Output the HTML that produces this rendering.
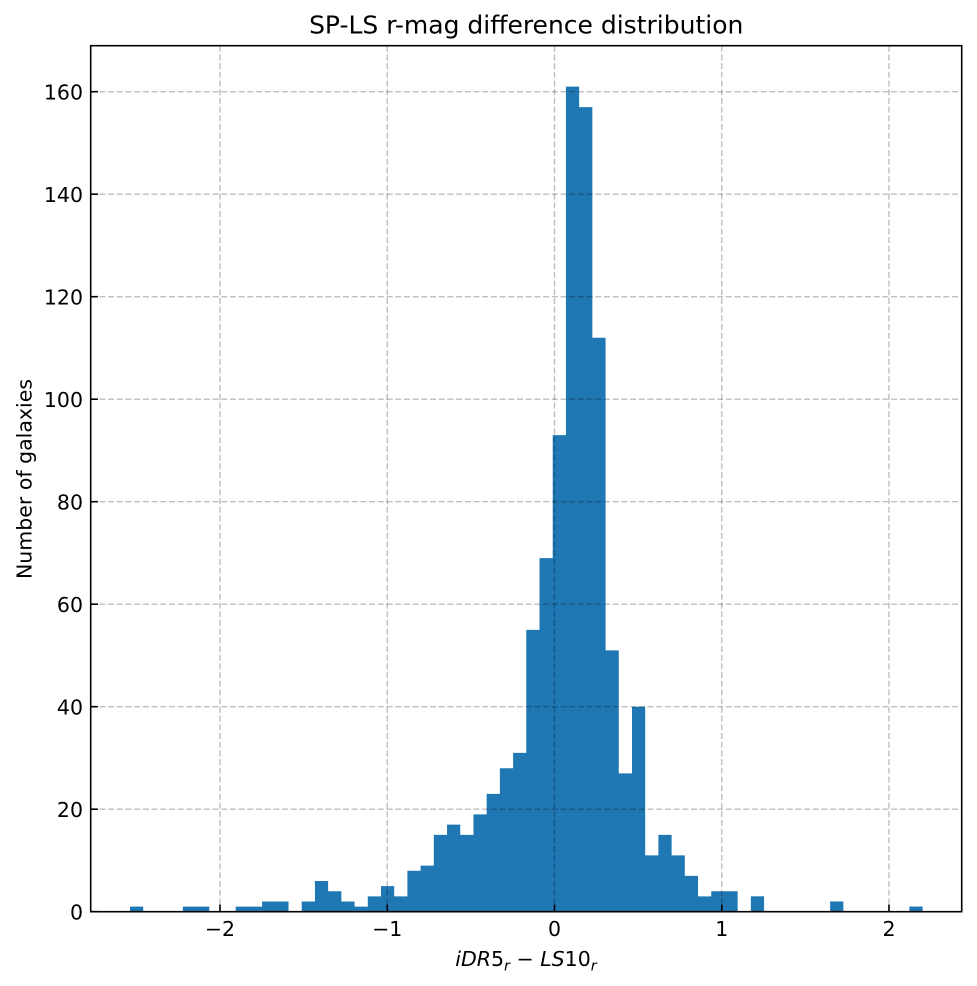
<!DOCTYPE html>
<html>
<head>
<meta charset="utf-8">
<style>
  html, body { margin: 0; padding: 0; background: #ffffff; }
  svg { display: block; }
  text { font-family: "DejaVu Sans", "Liberation Sans", sans-serif; fill: #000; }
</style>
</head>
<body>
<svg width="977" height="986" viewBox="0 0 977 986" xmlns="http://www.w3.org/2000/svg">
  <rect x="0" y="0" width="977" height="986" fill="#ffffff"/>

  <!-- Histogram bars -->
  <g fill="#1f77b4" stroke="none">
    <path d="M130,911.7 V906.575 H143.21 V911.7 Z"/>
    <path d="M182.84,911.7 V906.575 H209.26 V911.7 Z"/>
    <path d="M235.68,911.7 V906.575 H262.1 V901.45 H288.52 V911.7 Z"/>
    <path d="M301.73,911.7 V901.45 H314.94 V880.95 H328.15 V891.2 H341.36 V901.45 H354.57 V906.575 H367.78 V896.325 H380.99 V886.075 H394.2 V896.325 H407.41 V870.7 H420.62 V865.575 H433.83 V834.825 H447.04 V824.575 H460.25 V834.825 H473.46 V814.325 H486.67 V793.825 H499.88 V768.2 H513.09 V752.825 H526.3 V629.825 H539.51 V558.075 H552.72 V435.075 H565.93 V86.575 H579.14 V107.075 H592.35 V337.7 H605.56 V650.325 H618.77 V773.325 H631.98 V706.7 H645.19 V855.325 H658.4 V834.825 H671.61 V855.325 H684.82 V875.825 H698.03 V896.325 H711.24 V891.2 H737.66 V911.7 Z"/>
    <path d="M750.87,911.7 V896.325 H764.08 V911.7 Z"/>
    <path d="M830.13,911.7 V901.45 H843.34 V911.7 Z"/>
    <path d="M909.39,911.7 V906.575 H922.6 V911.7 Z"/>
  </g>

  <!-- Grid (drawn above bars) -->
  <g stroke="#000000" stroke-opacity="0.25" stroke-width="1.4" stroke-dasharray="6,2.7" fill="none">
    <line x1="220" y1="45.7" x2="220" y2="911.7"/>
    <line x1="387.25" y1="45.7" x2="387.25" y2="911.7"/>
    <line x1="554.5" y1="45.7" x2="554.5" y2="911.7"/>
    <line x1="721.75" y1="45.7" x2="721.75" y2="911.7"/>
    <line x1="889" y1="45.7" x2="889" y2="911.7"/>

    <line x1="90.7" y1="809.2" x2="961.7" y2="809.2"/>
    <line x1="90.7" y1="706.7" x2="961.7" y2="706.7"/>
    <line x1="90.7" y1="604.2" x2="961.7" y2="604.2"/>
    <line x1="90.7" y1="501.7" x2="961.7" y2="501.7"/>
    <line x1="90.7" y1="399.2" x2="961.7" y2="399.2"/>
    <line x1="90.7" y1="296.7" x2="961.7" y2="296.7"/>
    <line x1="90.7" y1="194.2" x2="961.7" y2="194.2"/>
    <line x1="90.7" y1="91.7" x2="961.7" y2="91.7"/>
  </g>

  <!-- Ticks (inward) -->
  <g stroke="#000" stroke-width="1.6">
    <line x1="220" y1="911.7" x2="220" y2="904.5"/>
    <line x1="387.25" y1="911.7" x2="387.25" y2="904.5"/>
    <line x1="554.5" y1="911.7" x2="554.5" y2="904.5"/>
    <line x1="721.75" y1="911.7" x2="721.75" y2="904.5"/>
    <line x1="889" y1="911.7" x2="889" y2="904.5"/>

    <line x1="90.7" y1="911.7" x2="97.9" y2="911.7"/>
    <line x1="90.7" y1="809.2" x2="97.9" y2="809.2"/>
    <line x1="90.7" y1="706.7" x2="97.9" y2="706.7"/>
    <line x1="90.7" y1="604.2" x2="97.9" y2="604.2"/>
    <line x1="90.7" y1="501.7" x2="97.9" y2="501.7"/>
    <line x1="90.7" y1="399.2" x2="97.9" y2="399.2"/>
    <line x1="90.7" y1="296.7" x2="97.9" y2="296.7"/>
    <line x1="90.7" y1="194.2" x2="97.9" y2="194.2"/>
    <line x1="90.7" y1="91.7" x2="97.9" y2="91.7"/>
  </g>

  <!-- Spines -->
  <rect x="90.7" y="45.7" width="871" height="866" fill="none" stroke="#000" stroke-width="1.6"/>

  <!-- Y tick labels -->
  <g font-size="20.5" text-anchor="end">
    <text x="83" y="919.3">0</text>
    <text x="83" y="816.8">20</text>
    <text x="83" y="714.3">40</text>
    <text x="83" y="611.8">60</text>
    <text x="83" y="509.3">80</text>
    <text x="83" y="406.8">100</text>
    <text x="83" y="304.3">120</text>
    <text x="83" y="201.8">140</text>
    <text x="83" y="99.3">160</text>
  </g>

  <!-- X tick labels -->
  <g font-size="20.5" text-anchor="middle">
    <text x="220" y="936">−2</text>
    <text x="387.25" y="936">−1</text>
    <text x="554.5" y="936">0</text>
    <text x="721.75" y="936">1</text>
    <text x="889" y="936">2</text>
  </g>

  <!-- Title -->
  <text x="526.2" y="33.3" font-size="25" text-anchor="middle">SP-LS r-mag difference distribution</text>

  <!-- X label (math) -->
  <text x="526" y="966" font-size="20.5" text-anchor="middle"><tspan font-style="italic">iDR</tspan><tspan>5</tspan><tspan font-style="italic" font-size="14.5" dy="4.5">r</tspan><tspan dy="-4.5"> − </tspan><tspan font-style="italic">LS</tspan><tspan>10</tspan><tspan font-style="italic" font-size="14.5" dy="4.5">r</tspan></text>

  <!-- Y label -->
  <text transform="translate(31.5,479) rotate(-90)" font-size="20.5" text-anchor="middle">Number of galaxies</text>
</svg>
</body>
</html>
